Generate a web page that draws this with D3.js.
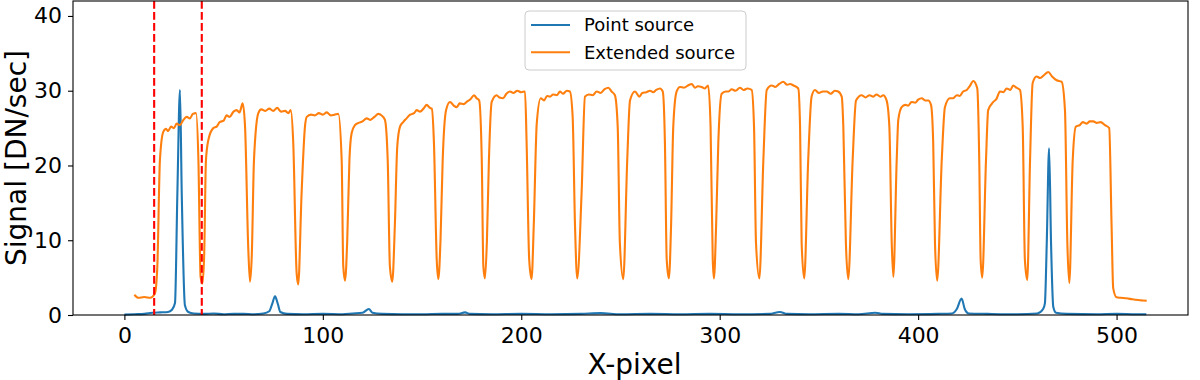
<!DOCTYPE html>
<html>
<head>
<meta charset="utf-8">
<script src="https://cdn.jsdelivr.net/npm/d3@7"></script>
<style>
  body { margin: 0; background: #fff; }
  svg text { font-family: "DejaVu Sans", sans-serif; fill: #000; }
</style>
</head>
<body>
<div id="chart"></div>
<script>
// Point source (blue) – vertices
const pointX = [0, 5, 10, 14, 18, 22, 24, 25.5, 26.7, 28.0, 28.9, 30.5, 32.2, 35, 40, 45, 50, 55, 60, 65, 70, 73, 74.5, 75.9, 77.3, 78.6, 82, 90, 100, 110, 115, 120, 123.2, 125, 130, 140, 150, 160, 168, 171.7, 174, 185, 200, 215, 230, 240, 250, 265, 280, 295, 310, 325, 330.3, 334, 345, 360, 370, 378.5, 382, 395, 410, 417, 419.5, 421.9, 423.5, 425.5, 435, 450, 460, 463, 463.9, 464.8, 466.0, 467.0, 468.1, 469.5, 475, 490, 500, 510, 515];
const pointY = [0.05, 0.1, 0.15, 0.3, 0.35, 0.4, 0.7, 1.6, 16.3, 30.1, 16.3, 1.3, 0.4, 0.2, 0.15, 0.2, 0.1, 0.15, 0.15, 0.1, 0.2, 0.5, 1.5, 2.5, 1.5, 0.4, 0.15, 0.1, 0.15, 0.1, 0.2, 0.3, 0.8, 0.3, 0.15, 0.1, 0.1, 0.15, 0.15, 0.35, 0.15, 0.1, 0.15, 0.1, 0.15, 0.25, 0.1, 0.15, 0.1, 0.15, 0.1, 0.15, 0.4, 0.15, 0.1, 0.15, 0.1, 0.3, 0.15, 0.1, 0.15, 0.2, 0.8, 2.2, 0.8, 0.2, 0.15, 0.1, 0.2, 0.8, 1.6, 9.4, 22.3, 9.4, 1.1, 0.3, 0.15, 0.1, 0.15, 0.1, 0.1];

// Extended source (orange)
const extX = [5, 7, 10, 13, 15.4, 16.6, 17.9, 19.6, 21, 22, 23.5, 25, 26.3, 28, 29.5, 31.4, 33, 34.5, 36.1, 37.3, 38.4, 39.3, 40.2, 41.1, 42.3, 44.8, 46.5, 48, 50, 51.5, 53, 55, 56.6, 58, 59.6, 60.8, 62.4, 63.3, 64.2, 65.3, 67.5, 69, 71, 73, 75, 77, 79, 81, 82.6, 83.8, 85.1, 86.8, 87.6, 89.3, 91.0, 91.9, 94, 96, 98, 100, 102, 104, 106, 107.8, 109.5, 110.3, 111.2, 112.3, 113.4, 114.5, 116.2, 118, 120, 122.1, 124, 126, 128, 130, 131.3, 132.7, 133.8, 135, 136.3, 137.5, 138.9, 140.5, 142.2, 144, 146, 147.3, 149, 151, 152.3, 154, 154.9, 156, 157.4, 158.2, 159.3, 160.4, 162.1, 164.1, 166, 167.5, 169, 171, 172.5, 174.5, 176.2, 177.5, 178.8, 180.1, 180.9, 181.7, 182.7, 183.7, 185.1, 187.6, 189, 190.9, 192.5, 194.3, 196, 198, 200, 201.9, 202.7, 204.0, 205.2, 206.3, 207.8, 209.8, 211.5, 213, 214.5, 216, 218, 219.5, 221, 223, 224.5, 225.9, 227.1, 228.2, 230.4, 232.1, 234, 236, 238, 240, 242, 243.9, 245.5, 247.2, 248.6, 249.7, 251.4, 253.4, 254.8, 257.3, 259.5, 261, 263, 264.9, 266.5, 268, 269.9, 271.3, 272.4, 273.3, 274.4, 275.5, 276.6, 278.3, 280.0, 282, 284, 285.9, 287.5, 289, 290.9, 292.5, 294.2, 295.4, 296.5, 297.1, 298.2, 299.3, 301.0, 303, 304.5, 306, 308, 310.2, 312, 314, 316.1, 317.3, 318.3, 320.0, 322.0, 323.7, 326.2, 328, 330, 332.0, 334, 335.5, 337.2, 339.6, 340.5, 341.3, 342.6, 344.6, 346.3, 348.0, 350, 352, 353.9, 356, 358, 359.7, 361.5, 362.3, 363.6, 364.8, 367.0, 368.7, 371.5, 373.5, 375.5, 377.4, 379, 381, 382.4, 384.1, 385.5, 386.7, 387.5, 389.2, 390.0, 391.7, 393.5, 395, 396.7, 398.5, 400, 401.8, 403.5, 405.1, 406.5, 407.6, 408.5, 409.6, 411.9, 413.5, 416.0, 417.7, 419.5, 421, 422.7, 424.5, 426, 427.8, 429.8, 430.8, 431.5, 432.3, 434.2, 435.3, 437.9, 439.5, 441.2, 443, 444.6, 446.5, 447.9, 449.5, 451.3, 452.7, 453.8, 455.0, 456.4, 457.7, 459.7, 461.5, 463.5, 465.6, 467.5, 469.8, 472.3, 474.0, 475.2, 476.2, 477.9, 479.5, 481.5, 483, 485, 486.5, 488.3, 490, 492, 494.2, 496.3, 497.5, 498.3, 500.0, 502, 505.0, 508, 511, 513, 515.2];
const extY = [2.7, 2.3, 2.4, 2.3, 2.9, 6.5, 20.7, 24.5, 24.9, 24.6, 25.2, 25.0, 25.6, 25.4, 26.0, 26.5, 26.3, 26.9, 27.0, 20.7, 5.1, 4.2, 8, 20.7, 23.4, 25.0, 25.2, 25.8, 26.0, 26.7, 26.5, 27.2, 27.4, 27.1, 28.3, 25.2, 9.1, 4.45, 8, 20.7, 27.0, 27.5, 27.3, 27.6, 27.3, 27.7, 27.2, 27.3, 27.0, 27.4, 23.0, 5.6, 4.1, 16.3, 25.2, 26.5, 26.8, 26.7, 27.0, 26.8, 27.1, 26.7, 26.8, 26.9, 20.7, 6.5, 4.6, 10, 20.7, 24.3, 25.4, 25.7, 25.9, 26.3, 26.1, 26.5, 26.9, 26.6, 26.1, 20.7, 6.5, 4.45, 12, 22.5, 25.2, 25.8, 26.3, 26.8, 27.0, 27.4, 27.2, 27.7, 28.1, 27.7, 27.6, 23.0, 7.4, 4.8, 10, 20.7, 27.4, 28.5, 28.0, 27.8, 28.3, 28.2, 28.5, 28.9, 29.4, 29.0, 28.7, 20.7, 6.5, 4.9, 10, 20.7, 28.5, 29.4, 29.1, 29.0, 29.6, 29.9, 29.7, 30.0, 29.8, 29.9, 23.0, 7.4, 4.8, 12, 25.6, 29.0, 28.7, 29.3, 29.2, 29.5, 29.4, 29.9, 29.6, 30.0, 29.9, 26.5, 11.8, 4.9, 16.3, 29.2, 29.5, 29.4, 29.9, 29.7, 30.2, 30.4, 29.9, 29.4, 25.2, 9.6, 4.8, 20.7, 28.7, 29.9, 29.2, 29.7, 29.8, 30.0, 29.8, 30.1, 30.3, 29.9, 23.0, 7.4, 4.9, 12, 25.2, 29.9, 30.5, 30.4, 30.7, 30.9, 30.4, 30.6, 30.5, 30.3, 30.7, 25.2, 7.4, 4.9, 12, 23.0, 29.6, 29.9, 29.9, 30.2, 30.0, 30.4, 30.1, 30.3, 30.1, 25.2, 9.6, 4.9, 20.7, 30.1, 30.7, 30.5, 30.9, 31.2, 30.8, 30.9, 30.7, 30.3, 25.2, 9.6, 4.9, 20.7, 29.2, 30.1, 29.7, 29.9, 29.9, 29.6, 30.0, 29.9, 29.2, 25.2, 9.6, 4.8, 20.7, 28.7, 29.4, 29.1, 29.4, 29.2, 29.5, 29.2, 29.4, 28.7, 25.2, 9.6, 5.1, 20.7, 26.1, 27.8, 28.1, 28.0, 28.5, 28.4, 28.8, 29.0, 28.7, 28.7, 28.1, 23.0, 9.6, 4.6, 20.7, 27.8, 29.0, 29.0, 29.4, 29.3, 29.9, 30.1, 30.6, 31.3, 30.3, 20.7, 7.4, 5.0, 20.7, 27.4, 28.5, 28.9, 29.9, 29.8, 30.3, 30.1, 30.7, 30.4, 30.1, 25.2, 7.4, 4.7, 20.7, 31.0, 31.9, 31.7, 32.1, 32.5, 31.9, 31.4, 31.2, 27.4, 9.6, 4.3, 20.7, 25.2, 25.4, 25.8, 25.6, 25.9, 25.9, 25.7, 25.8, 25.4, 25.0, 11.8, 3.6, 2.37, 2.3, 2.23, 2.1, 2.0, 1.95, 1.9];

// 赤い破線の位置
const markerX = [15, 39];

const xTicks = [0, 100, 200, 300, 400, 500];
const yTicks = [0, 10, 20, 30, 40];
const seriesNames = ["Point source", "Extended source"];

const W = 1200, H = 380;
const margin = { top: 1, right: 12, bottom: 65, left: 73 };
const width = W - margin.left - margin.right;
const height = H - margin.top - margin.bottom;

const svg = d3.select("#chart")
  .append("svg")
  .attr("width", W)
  .attr("height", H);

const g = svg.append("g")
  .attr("transform", `translate(${margin.left},${margin.top})`);

const x = d3.scaleLinear().domain([-25.9, 536]).range([0, width]);
const y = d3.scaleLinear().domain([0, 42]).range([height, 0]);

const color = d3.scaleOrdinal().domain(seriesNames).range(["#1f77b4", "#ff7f0e"]);

// 角を少し丸める（谷の底が丸いため）
const line = d3.line()
  .x(d => x(d[0]))
  .y(d => y(d[1]))
  .curve(d3.curveMonotoneX);

const pointData = pointX.map((v, i) => [v, pointY[i]]);
const extData = extX.map((v, i) => [v, extY[i]]);

// 線を描画
g.append("path")
  .datum(pointData)
  .attr("fill", "none")
  .attr("stroke", color(seriesNames[0]))
  .attr("stroke-width", 2.1)
  .attr("stroke-linejoin", "round")
  .attr("d", line);

g.append("path")
  .datum(extData)
  .attr("fill", "none")
  .attr("stroke", color(seriesNames[1]))
  .attr("stroke-width", 2.1)
  .attr("stroke-linejoin", "round")
  .attr("d", line);

// 破線
g.selectAll(".marker")
  .data(markerX)
  .enter()
  .append("line")
  .attr("class", "marker")
  .attr("x1", d => x(d))
  .attr("x2", d => x(d))
  .attr("y1", 0)
  .attr("y2", height)
  .attr("stroke", "#ff0000")
  .attr("stroke-width", 2.1)
  .attr("stroke-dasharray", "7.7,3.3");

// 軸
const xAxis = g.append("g")
  .attr("transform", `translate(0,${height})`)
  .call(d3.axisBottom(x).tickValues(xTicks).tickSize(5).tickPadding(5).tickSizeOuter(0));
xAxis.selectAll("text")
  .attr("dy", "17.5px")
  .style("font-size", "22px");

const yAxis = g.append("g")
  .call(d3.axisLeft(y).tickValues(yTicks).tickSize(5).tickPadding(6).tickSizeOuter(0));
yAxis.selectAll("text")
  .style("font-size", "22px");

g.selectAll(".domain").remove();
g.selectAll(".tick line").attr("stroke", "#000").attr("stroke-width", 1.1);

// 枠
g.append("rect")
  .attr("x", 0)
  .attr("y", 0)
  .attr("width", width)
  .attr("height", height)
  .attr("fill", "none")
  .attr("stroke", "#000")
  .attr("stroke-width", 1.1);

// 軸ラベル
svg.append("text")
  .attr("x", margin.left + width / 2 + 4)
  .attr("y", 374)
  .attr("text-anchor", "middle")
  .style("font-size", "28px")
  .text("X-pixel");

svg.append("text")
  .attr("transform", `translate(26,${margin.top + height / 2}) rotate(-90)`)
  .attr("text-anchor", "middle")
  .style("font-size", "28px")
  .text("Signal [DN/sec]");

// 凡例
const legend = svg.append("g").attr("transform", "translate(525,11)");
legend.append("rect")
  .attr("width", 221)
  .attr("height", 59)
  .attr("rx", 4)
  .attr("fill", "#fff")
  .attr("fill-opacity", 0.8)
  .attr("stroke", "#cccccc")
  .attr("stroke-width", 1);

const item = legend.selectAll(".item")
  .data(seriesNames)
  .enter()
  .append("g")
  .attr("class", "item")
  .attr("transform", (d, i) => `translate(0,${14 + i * 27.3})`);

item.append("line")
  .attr("x1", 6)
  .attr("x2", 45)
  .attr("stroke", d => color(d))
  .attr("stroke-width", 2.1);

item.append("text")
  .attr("x", 59)
  .attr("dy", "0.35em")
  .style("font-size", "18px")
  .text(d => d);
</script>
</body>
</html>
